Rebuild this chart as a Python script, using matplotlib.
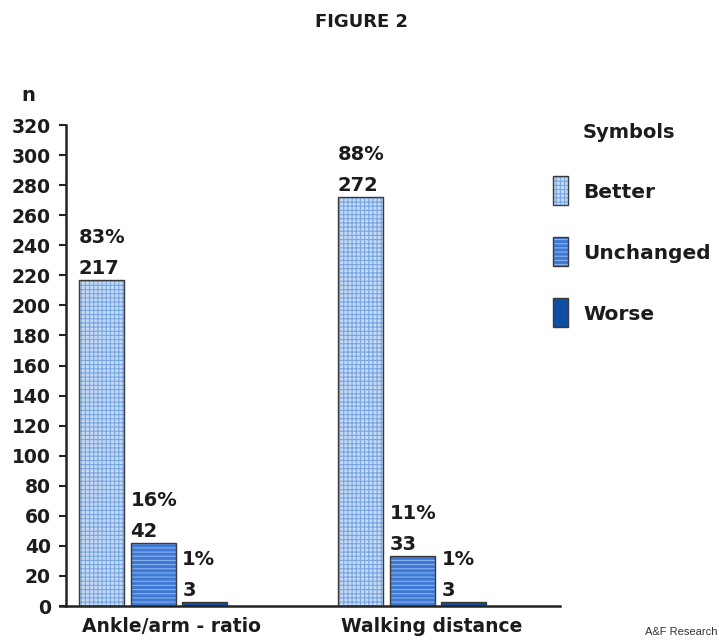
import numpy as np
import matplotlib.pyplot as plt
from matplotlib.patches import Rectangle

plt.rcParams['font.family'] = ['DejaVu Sans']
plt.rcParams['font.weight'] = 'bold'
plt.rcParams['hatch.linewidth'] = 0.8

# Survey results per measure
groups = ["Ankle/arm - ratio", "Walking distance"]
series = ["Better", "Unchanged", "Worse"]
counts = {
    "Better": [217, 272],
    "Unchanged": [42, 33],
    "Worse": [3, 3],
}
percents = {
    "Better": ["83%", "88%"],
    "Unchanged": ["16%", "11%"],
    "Worse": ["1%", "1%"],
}
yticks = np.arange(0, 321, 20)

# fill colour, hatch colour, hatch pattern
styles = {
    "Better": ("#c6daf4", "#78a6e2", "++++"),
    "Unchanged": ("#3d79d5", "#8ab1ea", "----"),
    "Worse": ("#0c4fa3", "#0c4fa3", ""),
}
TXT = "#1c1c1c"

fig = plt.figure(figsize=(7.19, 6.43), dpi=100)
ax = fig.add_axes([0.0918, 0.0575, 0.687, 0.748])

x = np.arange(len(groups))
width = 0.174
step = 0.2
for i, name in enumerate(series):
    face, hcol, hatch = styles[name]
    pos = x + (i - 1) * step
    ax.bar(pos, counts[name], width, color=face, edgecolor=hcol, hatch=hatch,
           linewidth=0, zorder=2)
    ax.bar(pos, counts[name], width, fill=False, edgecolor="#3a3a3a",
           linewidth=1.0, zorder=3)
    for xp, v, p in zip(pos, counts[name], percents[name]):
        ax.annotate(str(v), (xp - width / 2, v), xytext=(0, 6),
                    textcoords="offset pixels", ha="left", va="baseline",
                    fontsize=14, color=TXT)
        ax.annotate(p, (xp - width / 2, v), xytext=(0, 37),
                    textcoords="offset pixels", ha="left", va="baseline",
                    fontsize=14, color=TXT)

ax.set_xlim(-0.336, 1.571)
ax.set_ylim(0, 320)
ax.set_yticks(yticks)
ax.set_yticklabels([str(t) for t in yticks], fontsize=13.5, color=TXT)
ax.tick_params(axis="y", length=5, width=1.5, pad=6, color="#222222")
ax.set_xticks([0.071, 1.077])
ax.set_xticklabels(groups, fontsize=13.5, color=TXT)
ax.tick_params(axis="x", length=0, pad=8)
for side in ("top", "right"):
    ax.spines[side].set_visible(False)
for side in ("left", "bottom"):
    ax.spines[side].set_linewidth(1.8)
    ax.spines[side].set_color("#222222")
ax.spines["bottom"].set_bounds(-0.36, 1.571)

fig.text(0.503, 0.966, "FIGURE 2", ha="center", va="center", fontsize=13,
         color=TXT)
fig.text(0.040, 0.852, "n", ha="center", va="center", fontsize=14, color=TXT)

# legend drawn in figure pixels
W, H = 719, 643
fig.text(583 / W, 1 - 133 / H, "Symbols", ha="left", va="center",
         fontsize=14, color=TXT)
for i, name in enumerate(series):
    face, hcol, hatch = styles[name]
    top = 176 + i * 61
    rect = dict(xy=(553 / W, 1 - (top + 29) / H), width=15 / W, height=29 / H,
                transform=fig.transFigure)
    fig.add_artist(Rectangle(facecolor=face, edgecolor=hcol, hatch=hatch,
                             linewidth=0, **rect))
    fig.add_artist(Rectangle(fill=False, edgecolor="#3a3a3a", linewidth=1.0,
                             **rect))
    fig.text(583 / W, 1 - (top + 16) / H, name, ha="left", va="center",
             fontsize=14.5, color=TXT)

fig.text(0.998, 0.017, "A&F Research", ha="right", va="center", fontsize=8,
         fontweight="normal", family="Liberation Sans", color="#333333")

fig.savefig("out.png", dpi=100, facecolor="white")
